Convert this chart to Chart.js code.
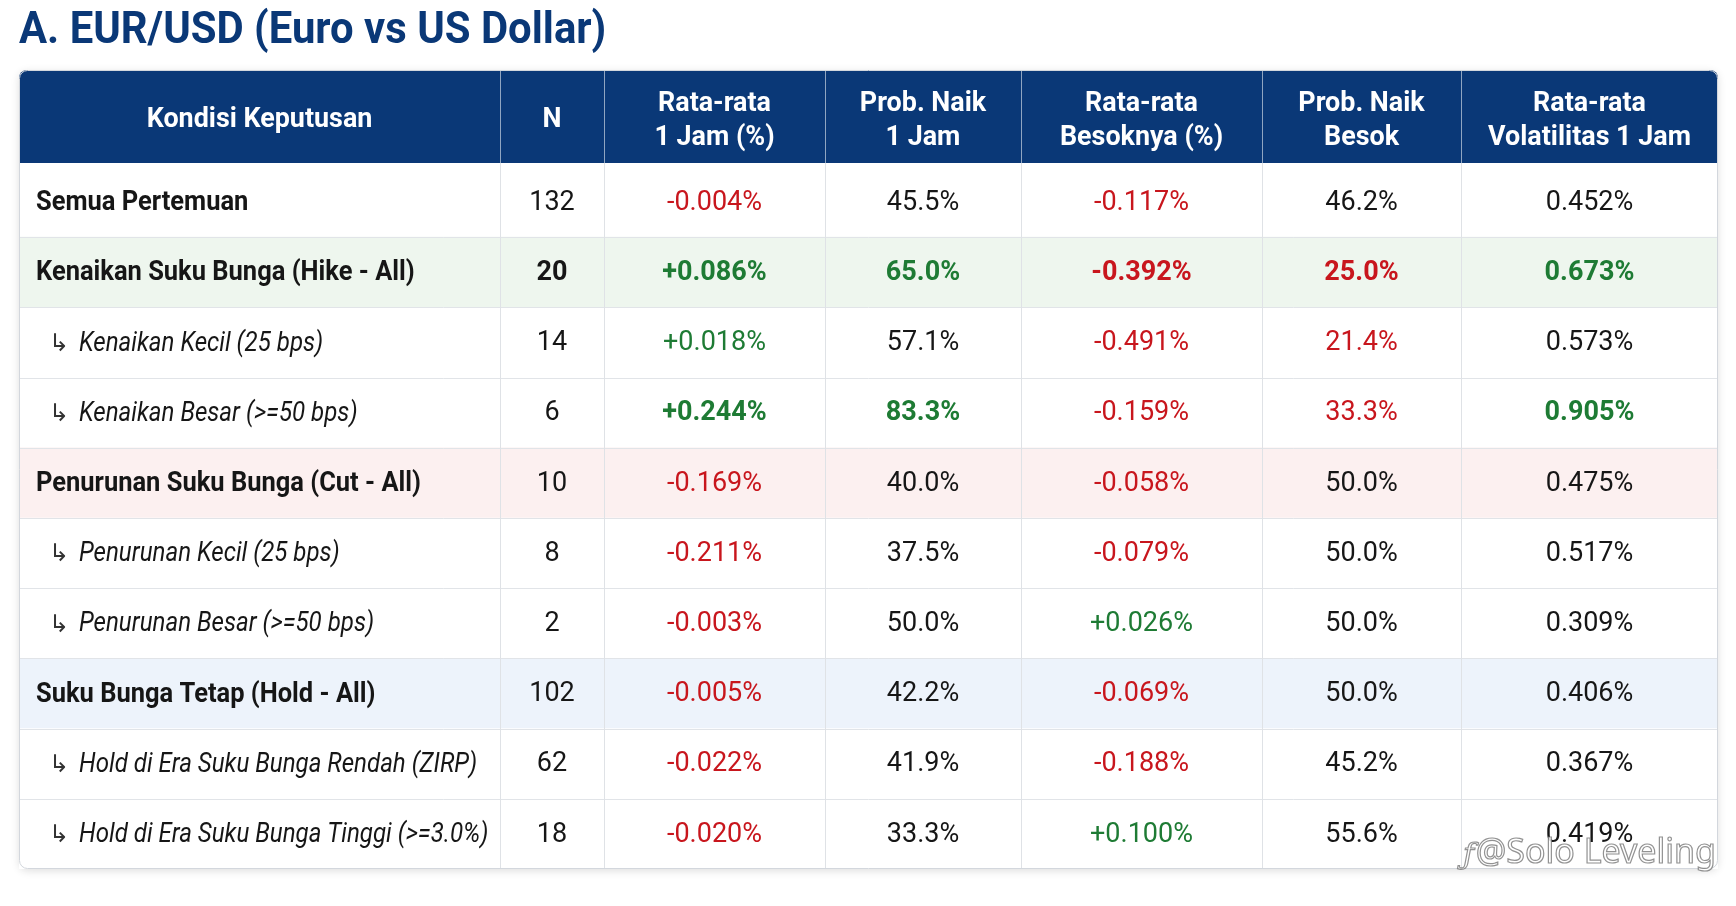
<!DOCTYPE html>
<html>
<head>
<meta charset="utf-8">
<script src="https://cdn.jsdelivr.net/npm/chart.js@4.4.1/dist/chart.umd.min.js"></script>
<style>
  html, body { margin: 0; padding: 0; background: #fff; }
  #wrap { width: 1736px; height: 906px; position: relative; }
</style>
</head>
<body>
<div id="wrap"><canvas id="tbl"></canvas></div>
<script>
const title = "A. EUR/USD (Euro vs US Dollar)";
const headers = [
  ["Kondisi Keputusan"], ["N"], ["Rata-rata", "1 Jam (%)"], ["Prob. Naik", "1 Jam"],
  ["Rata-rata", "Besoknya (%)"], ["Prob. Naik", "Besok"], ["Rata-rata", "Volatilitas 1 Jam"]
];
const conditions = [
  "Semua Pertemuan",
  "Kenaikan Suku Bunga (Hike - All)",
  "Kenaikan Kecil (25 bps)",
  "Kenaikan Besar (>=50 bps)",
  "Penurunan Suku Bunga (Cut - All)",
  "Penurunan Kecil (25 bps)",
  "Penurunan Besar (>=50 bps)",
  "Suku Bunga Tetap (Hold - All)",
  "Hold di Era Suku Bunga Rendah (ZIRP)",
  "Hold di Era Suku Bunga Tinggi (>=3.0%)"
];
const isSubRow = [false, false, true, true, false, true, true, false, true, true];
const counts = [132, 20, 14, 6, 10, 8, 2, 102, 62, 18];
const avgReturn1h = [-0.004, 0.086, 0.018, 0.244, -0.169, -0.211, -0.003, -0.005, -0.022, -0.020];
const probUp1h = [45.5, 65.0, 57.1, 83.3, 40.0, 37.5, 50.0, 42.2, 41.9, 33.3];
const avgReturnNextDay = [-0.117, -0.392, -0.491, -0.159, -0.058, -0.079, 0.026, -0.069, -0.188, 0.100];
const probUpNextDay = [46.2, 25.0, 21.4, 33.3, 50.0, 50.0, 50.0, 50.0, 45.2, 55.6];
const avgVolatility1h = [0.452, 0.673, 0.573, 0.905, 0.475, 0.517, 0.309, 0.406, 0.367, 0.419];

// highlighted cells, "row-col"
const upCells = ["1-3", "3-3", "1-6", "3-6"];
const downCells = ["1-5", "2-5", "3-5"];
const boldCells = ["1-1", "1-2", "1-3", "1-4", "1-5", "1-6", "3-2", "3-3", "3-6"];

// layout / style
const colWidths = [481, 104, 221, 196, 241, 199, 257];
const colEdges = colWidths.reduce((a, w) => { a.push(a[a.length - 1] + w); return a; }, [0]);
const tableWidth = colEdges[colEdges.length - 1];
const rowFill = ["#ffffff", "#eef6ee", "#ffffff", "#ffffff", "#fcf0f0", "#ffffff", "#ffffff", "#edf3fb", "#ffffff", "#ffffff"];
const NAVY = "#0a3877";
const RED = "#c8161d";
const GREEN = "#1e7b34";
const INK = "#161616";
const TABLE_TOP = 70;
const HEAD_BOTTOM = 163;

const signed = v => (v > 0 ? "+" : "") + v.toFixed(3) + "%";
const pct1 = v => v.toFixed(1) + "%";
const pct3 = v => v.toFixed(3) + "%";

function cellText(r, c) {
  if (c === 1) return String(counts[r]);
  if (c === 2) return signed(avgReturn1h[r]);
  if (c === 3) return pct1(probUp1h[r]);
  if (c === 4) return signed(avgReturnNextDay[r]);
  if (c === 5) return pct1(probUpNextDay[r]);
  return pct3(avgVolatility1h[r]);
}

function cellColor(r, c) {
  const key = r + "-" + c;
  if (c === 2) return avgReturn1h[r] < 0 ? RED : GREEN;
  if (c === 4) return avgReturnNextDay[r] < 0 ? RED : GREEN;
  if (upCells.includes(key)) return GREEN;
  if (downCells.includes(key)) return RED;
  return INK;
}

function drawText(ctx, str, x, y, font, color, align, sx) {
  ctx.save();
  ctx.font = font;
  ctx.fillStyle = color;
  ctx.textAlign = align;
  ctx.textBaseline = "middle";
  ctx.translate(x, y);
  ctx.scale(sx || 1, 1);
  ctx.fillText(str, 0, 0);
  ctx.restore();
}

const tablePlugin = {
  id: "tablePlugin",
  beforeDatasetsDraw(chart) {
    const ctx = chart.ctx;
    const x = chart.scales.x;
    const area = chart.chartArea;
    const left = x.getPixelForValue(0);
    const right = x.getPixelForValue(tableWidth);
    ctx.save();
    ctx.fillStyle = "#ffffff";
    ctx.fillRect(0, 0, chart.width, chart.height);

    ctx.save();
    ctx.font = "bold 45px Roboto";
    ctx.fillStyle = NAVY;
    ctx.textBaseline = "alphabetic";
    ctx.textAlign = "left";
    ctx.translate(left, 43);
    ctx.scale(0.93, 1);
    ctx.fillText(title, 0, 0);
    ctx.restore();

    // card with shadow
    ctx.shadowColor = "rgba(0,0,0,0.13)";
    ctx.shadowBlur = 8;
    ctx.shadowOffsetY = 2;
    ctx.fillStyle = "#ffffff";
    ctx.beginPath();
    ctx.roundRect(left, TABLE_TOP, right - left, area.bottom - TABLE_TOP, 8);
    ctx.fill();
    ctx.shadowColor = "transparent";

    ctx.fillStyle = NAVY;
    ctx.beginPath();
    ctx.roundRect(left, TABLE_TOP, right - left, HEAD_BOTTOM - TABLE_TOP, [8, 8, 0, 0]);
    ctx.fill();
    ctx.restore();
  },
  afterDatasetsDraw(chart) {
    const ctx = chart.ctx;
    const x = chart.scales.x;
    const y = chart.scales.y;
    const area = chart.chartArea;
    const left = x.getPixelForValue(0);
    const right = x.getPixelForValue(tableWidth);
    const half = (y.getPixelForValue(1) - y.getPixelForValue(0)) / 2;
    ctx.save();
    ctx.lineWidth = 1;

    ctx.strokeStyle = "#e1e4e8";
    for (let i = 1; i < conditions.length; i++) {
      const py = Math.round(y.getPixelForValue(i) - half) + 0.5;
      ctx.beginPath(); ctx.moveTo(left, py); ctx.lineTo(right, py); ctx.stroke();
    }
    for (let k = 1; k < colEdges.length - 1; k++) {
      const px = Math.round(x.getPixelForValue(colEdges[k])) + 0.5;
      ctx.strokeStyle = "#dfe2e6";
      ctx.beginPath(); ctx.moveTo(px, HEAD_BOTTOM); ctx.lineTo(px, area.bottom); ctx.stroke();
      ctx.strokeStyle = "rgba(255,255,255,0.55)";
      ctx.beginPath(); ctx.moveTo(px, TABLE_TOP); ctx.lineTo(px, HEAD_BOTTOM); ctx.stroke();
    }
    ctx.strokeStyle = "#d3d7dd";
    ctx.beginPath();
    ctx.roundRect(left + 0.5, TABLE_TOP + 0.5, right - left - 1, area.bottom - TABLE_TOP - 1, 8);
    ctx.stroke();
    ctx.restore();

    // header
    const headMid = (TABLE_TOP + HEAD_BOTTOM) / 2;
    headers.forEach((lines, c) => {
      const cx = x.getPixelForValue((colEdges[c] + colEdges[c + 1]) / 2);
      if (lines.length === 1) {
        drawText(ctx, lines[0], cx, headMid + 3, "bold 28px Roboto", "#ffffff", "center", 0.96);
      } else {
        drawText(ctx, lines[0], cx, headMid - 13, "bold 28px Roboto", "#ffffff", "center", 0.96);
        drawText(ctx, lines[1], cx, headMid + 21, "bold 28px Roboto", "#ffffff", "center", 0.96);
      }
    });

    // body
    conditions.forEach((label, r) => {
      const cy = y.getPixelForValue(r) + 1;
      if (isSubRow[r]) {
        drawText(ctx, "\u21B3", left + 30, cy + 1, "24px 'DejaVu Sans'", "#333333", "left");
        drawText(ctx, label, left + 60, cy, "italic 28px Roboto", INK, "left", 0.86);
      } else {
        drawText(ctx, label, left + 17, cy, "bold 28px Roboto", INK, "left", 0.91);
      }
      for (let c = 1; c < headers.length; c++) {
        const cx = x.getPixelForValue((colEdges[c] + colEdges[c + 1]) / 2);
        const bold = boldCells.includes(r + "-" + c);
        drawText(ctx, cellText(r, c), cx, cy, bold ? "bold 27px Roboto" : "27px Roboto", cellColor(r, c), "center");
      }
    });

    // watermark
    ctx.save();
    ctx.font = "34px 'Noto Sans'";
    ctx.textAlign = "right";
    ctx.textBaseline = "middle";
    ctx.lineWidth = 1.2;
    ctx.strokeStyle = "rgba(110,110,110,0.75)";
    ctx.fillStyle = "rgba(255,255,255,0.85)";
    ctx.fillText("@Solo Leveling", 1716, 853);
    ctx.strokeText("@Solo Leveling", 1716, 853);
    ctx.font = "italic 30px 'DejaVu Serif'";
    ctx.fillText("\u0192", 1474, 856);
    ctx.strokeText("\u0192", 1474, 856);
    ctx.restore();
  }
};

new Chart(document.getElementById("tbl"), {
  type: "bar",
  data: {
    labels: conditions,
    datasets: [{
      data: conditions.map(() => [0, tableWidth]),
      backgroundColor: rowFill,
      borderWidth: 0,
      barPercentage: 1,
      categoryPercentage: 1
    }]
  },
  options: {
    indexAxis: "y",
    responsive: true,
    maintainAspectRatio: false,
    animation: false,
    layout: { padding: { left: 19, right: 18, top: 167, bottom: 37 } },
    scales: {
      x: { type: "linear", min: 0, max: tableWidth, display: false },
      y: { type: "category", display: false, offset: true }
    },
    plugins: { legend: { display: false }, tooltip: { enabled: false }, title: { display: false } }
  },
  plugins: [tablePlugin]
});
</script>
</body>
</html>
